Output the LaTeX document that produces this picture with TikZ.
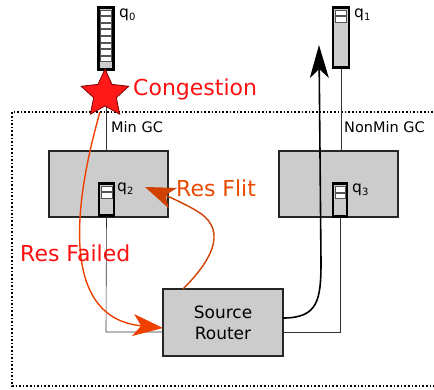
\documentclass[tikz,border=0pt]{standalone}
\usepackage{fontspec}
\setmainfont{DejaVu Sans}
\usetikzlibrary{shapes.geometric,arrows.meta,calc}
\definecolor{boxgray}{HTML}{CCCCCC}
\definecolor{cellgray}{HTML}{555555}
\definecolor{resred}{HTML}{FF1010}
\definecolor{failarrow}{HTML}{F04000}
\definecolor{flitorange}{HTML}{E84A00}
\definecolor{flitarrow}{HTML}{D04000}
\newcommand{\qsub}[1]{q\raisebox{-3pt}{\fontsize{10}{11}\selectfont #1}}
\begin{document}
\begin{tikzpicture}[x=1pt,y=-1pt,
  router/.style={draw=black!85,line width=1.4pt,fill=boxgray,inner sep=0pt},
  queue/.style={draw=black,line width=2.4pt,fill=boxgray,inner sep=0pt},
  cell/.style={draw=cellgray,line width=1pt,fill=white},
  wire/.style={draw=black!80,line width=0.6pt},
  lbl/.style={font=\fontsize{14.5}{17}\selectfont,inner sep=0pt,anchor=west},
  qlbl/.style={font=\fontsize{15.5}{17}\selectfont,inner sep=0pt,anchor=west},
  big/.style={font=\fontsize{22}{26}\selectfont,inner sep=0pt,anchor=west}]
\useasboundingbox (0,0) rectangle (434,389);
% dotted region
\draw[line width=1.6pt,dotted] (440,112) -- (12,112) -- (12,386) -- (440,386);
% routers
\node[router,minimum width=119pt,minimum height=66pt] (mingc) at (108.5,184) {};
\node[router,minimum width=119pt,minimum height=66pt] (nonmin) at (338.5,184) {};
\node[router,minimum width=120pt,minimum height=67pt,align=center,font=\fontsize{17}{21}\selectfont] (src) at (223,322.5) {Source\\Router};
% queues
\node[queue,minimum width=15pt,minimum height=62pt] (q0) at (106,38.5) {};
\foreach \i in {0,...,7}{\draw[cell] (100.5,10+\i*6.6) rectangle (111.5,15.6+\i*6.6);}
\node[queue,minimum width=16pt,minimum height=60pt] (q1) at (341,37.5) {};
\foreach \i in {0,1}{\draw[cell] (335.5,10+\i*6.6) rectangle (346.5,15.6+\i*6.6);}
\node[queue,minimum width=15pt,minimum height=32pt] (q2) at (106.5,199.5) {};
\foreach \i in {0,1}{\draw[cell] (101,186+\i*6.6) rectangle (112,191.6+\i*6.6);}
\node[queue,minimum width=14pt,minimum height=33pt] (q3) at (340,200) {};
\foreach \i in {0,1}{\draw[cell] (335,186.5+\i*6.6) rectangle (345,192.1+\i*6.6);}
% queue labels
\node[qlbl] (l0) at (119,15) {\qsub{0}};
\node[qlbl] (l1) at (354,15) {\qsub{1}};
\node[qlbl] (l2) at (117,189) {\qsub{2}};
\node[qlbl] (l3) at (352,190) {\qsub{3}};
\node[lbl] (lmin) at (111,127) {Min GC};
\node[lbl] (lnon) at (344,127) {NonMin GC};
% wires
\coordinate (lc) at (106,332);
\coordinate (rc) at (340,332);
\draw[wire] (q0.south) -- (q0.south |- mingc.north);
\draw[wire] (q1.south) -- (q1.south |- nonmin.north);
\draw[wire] (q2.south) -- (lc) -- (lc -| src.west);
\draw[wire] (q3.south) -- (rc) -- (rc -| src.east);
% star
\node[star,star points=5,star point ratio=2.1,minimum size=50pt,fill=red!90!white,draw=red!50!black,line width=0.8pt,inner sep=0pt] (st) at (105,94) {};
\node[big,text=resred] (cong) at (133,89) {Congestion};
% black arrow
\coordinate (bs) at (283,318);
\coordinate (bt) at (319,45);
\draw[line width=1.6pt,-{Stealth[length=33pt,width=19pt,inset=9pt]}] (bs) .. controls (318,318) and (321,300) .. (321,262) -- (bt);
% Res Failed arrow
\coordinate (fs) at (100,112);
\coordinate (ft) at (163,328);
\draw[failarrow,line width=1.4pt,-{Stealth[length=30pt,width=22pt,inset=8pt]}] (fs) .. controls (72,210) and (62,318) .. (ft);
\node[big,text=resred] (rfail) at (20,253) {Res Failed};
% Res Flit arrow
\coordinate (ls) at (183,289);
\coordinate (lt) at (145,187);
\draw[flitarrow,line width=1.4pt,-{Stealth[length=30pt,width=22pt,inset=8pt]}] (ls) .. controls (210,262) and (228,232) .. (200,213) .. controls (188,205) and (165,195) .. (lt);
\node[big,text=flitorange] (rflit) at (176,188) {Res Flit};
\end{tikzpicture}
\end{document}
